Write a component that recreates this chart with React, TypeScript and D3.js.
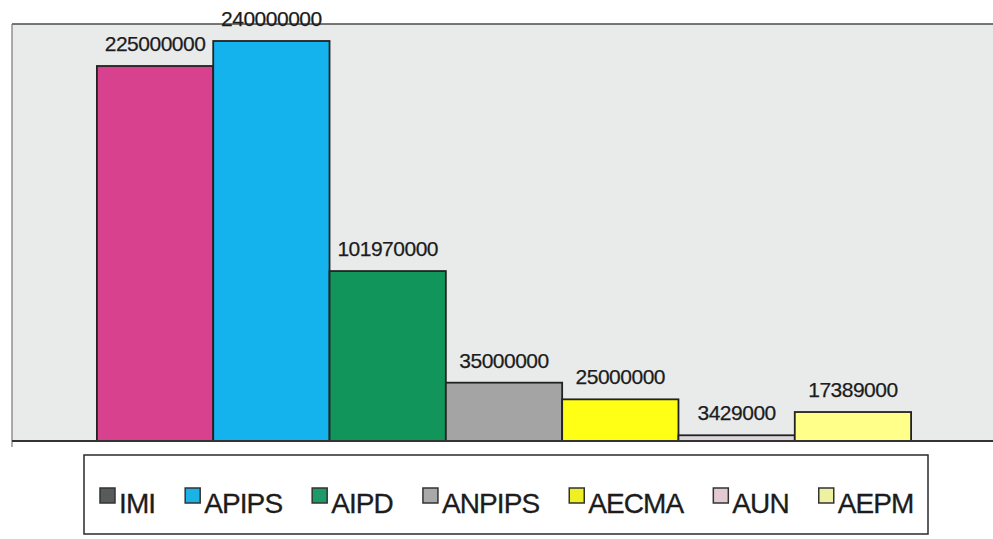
import React, { useEffect, useRef } from 'react';
import * as d3 from 'd3';

const categories = ['IMI', 'APIPS', 'AIPD', 'ANPIPS', 'AECMA', 'AUN', 'AEPM'];
const values = [225000000, 240000000, 101970000, 35000000, 25000000, 3429000, 17389000];
const barColors = ['#d8418d', '#15b3ee', '#12955a', '#a4a4a4', '#ffff16', '#dcd6dc', '#ffff8a'];
const legendColors = ['#575b5b', '#1bb2e6', '#1d9a69', '#a9a9a9', '#eeef24', '#e2c9d2', '#eef0a2'];

const W = 993;
const H = 539;
const FONT = '"Liberation Sans", Arial, sans-serif';

export default function App() {
  const legendRef = useRef<SVGGElement>(null);

  const plot = { left: 12, right: 996, top: 24, bottom: 441 };

  const x = d3.scaleBand<string>()
    .domain(categories)
    .range([plot.left, plot.right])
    .paddingInner(0)
    .paddingOuter(0.73);

  const y = d3.scaleLinear()
    .domain([0, 240000000])
    .range([plot.bottom, 41]);

  useEffect(() => {
    if (!legendRef.current) return;
    const g = d3.select(legendRef.current);
    g.selectAll('*').remove();

    // legend box
    g.append('rect')
      .attr('x', 84)
      .attr('y', 455)
      .attr('width', 844)
      .attr('height', 79)
      .attr('fill', '#fff')
      .attr('stroke', '#2a2a2a')
      .attr('stroke-width', 1.5);

    let cx = 100;
    categories.forEach((c, i) => {
      g.append('rect')
        .attr('x', cx)
        .attr('y', 488)
        .attr('width', 15)
        .attr('height', 15)
        .attr('fill', legendColors[i])
        .attr('stroke', '#333')
        .attr('stroke-width', 1.5);
      const t = g.append('text')
        .attr('x', cx + 19)
        .attr('y', 513)
        .attr('font-family', FONT)
        .attr('font-size', 28)
        .attr('letter-spacing', -0.9)
        .attr('fill', '#1c1c1c')
        .attr('stroke', '#1c1c1c')
        .attr('stroke-width', 0.3)
        .text(c);
      const w = (t.node() as SVGTextElement).getComputedTextLength();
      cx += 19 + w + 30;
    });
  }, []);

  return (
    <svg
      width={W}
      height={H}
      style={{ position: 'absolute', left: 0, top: 0, background: '#fff' }}
    >
      {/* plot area */}
      <rect
        x={plot.left}
        y={plot.top}
        width={plot.right - plot.left}
        height={plot.bottom - plot.top}
        fill="#e9ebeb"
      />
      <line x1={plot.left} x2={W} y1={plot.top} y2={plot.top}
        stroke="#4a4a4a" strokeWidth={1.6} />
      <line x1={plot.left} x2={plot.left} y1={plot.top} y2={plot.bottom + 6}
        stroke="#777" strokeWidth={1.2} />

      {categories.map((c, i) => (
        <rect
          key={c}
          x={x(c)}
          y={y(values[i])}
          width={x.bandwidth()}
          height={y(0) - y(values[i])}
          fill={barColors[i]}
          stroke="#222"
          strokeWidth={1.8}
        />
      ))}

      <line x1={plot.left} x2={W} y1={plot.bottom} y2={plot.bottom}
        stroke="#333" strokeWidth={1.8} />

      {categories.map((c, i) => (
        <text
          key={'l' + c}
          x={(x(c) ?? 0) + x.bandwidth() / 2}
          y={y(values[i]) - 15}
          textAnchor="middle"
          fontFamily={FONT}
          fontSize={21}
          letterSpacing={-0.5}
          fill="#1c1c1c"
          stroke="#1c1c1c"
          strokeWidth={0.25}
        >
          {values[i]}
        </text>
      ))}

      <g ref={legendRef} />
    </svg>
  );
}
